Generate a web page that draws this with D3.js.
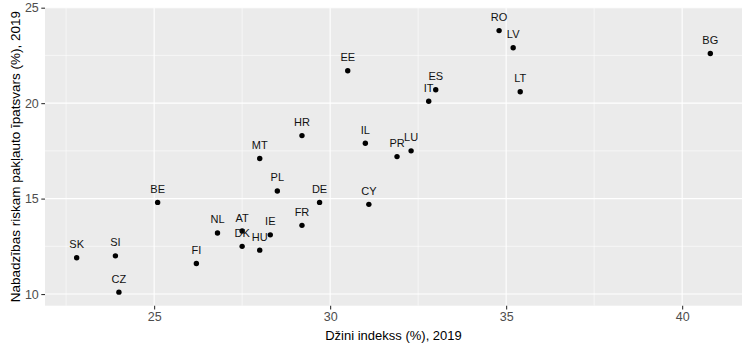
<!DOCTYPE html>
<html>
<head>
<meta charset="utf-8">
<script src="https://cdn.jsdelivr.net/npm/d3@7"></script>
<style>
  html, body { margin: 0; padding: 0; background: #fff; }
  svg { display: block; font-family: "Liberation Sans", Arial, sans-serif; }
</style>
</head>
<body>
<svg id="chart" width="750" height="350"></svg>
<script>
// Country codes, Gini index (%) and at-risk-of-poverty rate (%), 2019
const countries = ["SK","SI","CZ","BE","FI","NL","AT","DK","HU","PL","DE","FR","IE","CY","EE","ES","IT","HR","IL","PR","LU","MT","RO","LV","LT","BG"];
const gini      = [22.8, 23.9, 24.0, 25.1, 26.2, 26.8, 27.5, 27.5, 28.0, 28.5, 29.7, 29.2, 28.3, 31.1, 30.5, 33.0, 32.8, 29.2, 31.0, 31.9, 32.3, 28.0, 34.8, 35.2, 35.4, 40.8];
const poverty   = [11.9, 12.0, 10.1, 14.8, 11.6, 13.2, 13.3, 12.5, 12.3, 15.4, 14.8, 13.6, 13.1, 14.7, 21.7, 20.7, 20.1, 18.3, 17.9, 17.2, 17.5, 17.1, 23.8, 22.9, 20.6, 22.6];

const xTicks = [25, 30, 35, 40];
const yTicks = [10, 15, 20, 25];
const xMinor = [22.5, 27.5, 32.5, 37.5];
const yMinor = [12.5, 17.5, 22.5];

const xTitle = "Džini indekss (%), 2019";
const yTitle = "Nabadzības riskam pakļauto īpatsvars (%), 2019";

const labelNudge = 0.5;

const data = countries.map((c, i) => ({ code: c, x: gini[i], y: poverty[i] }));

const svg = d3.select("#chart");
const W = 750, H = 350;
const margin = { top: 7.5, right: 8, bottom: 44.3, left: 45 };
const pw = W - margin.left - margin.right;
const ph = H - margin.top - margin.bottom;

// Domains padded by 5% like a default continuous scale; labels count toward y range
function expand(lo, hi) { const r = hi - lo; return [lo - 0.05 * r, hi + 0.05 * r]; }
const xExt = d3.extent(gini);
const yExt = [d3.min(poverty), d3.max(poverty) + labelNudge];

const x = d3.scaleLinear().domain(expand(xExt[0], xExt[1])).range([0, pw]);
const y = d3.scaleLinear().domain(expand(yExt[0], yExt[1])).range([ph, 0]);

const g = svg.append("g").attr("transform", `translate(${margin.left},${margin.top})`);

// Panel background
g.append("rect").attr("width", pw).attr("height", ph).attr("fill", "#EBEBEB");

// Minor grid
g.selectAll("line.xminor").data(xMinor).join("line")
  .attr("x1", d => x(d)).attr("x2", d => x(d)).attr("y1", 0).attr("y2", ph)
  .attr("stroke", "#fff").attr("stroke-width", 0.55);
g.selectAll("line.yminor").data(yMinor).join("line")
  .attr("y1", d => y(d)).attr("y2", d => y(d)).attr("x1", 0).attr("x2", pw)
  .attr("stroke", "#fff").attr("stroke-width", 0.55);

// Major grid
g.selectAll("line.xmajor").data(xTicks).join("line")
  .attr("x1", d => x(d)).attr("x2", d => x(d)).attr("y1", 0).attr("y2", ph)
  .attr("stroke", "#fff").attr("stroke-width", 1.1);
g.selectAll("line.ymajor").data(yTicks).join("line")
  .attr("y1", d => y(d)).attr("y2", d => y(d)).attr("x1", 0).attr("x2", pw)
  .attr("stroke", "#fff").attr("stroke-width", 1.1);

// Axes
const xAxis = g.append("g").attr("transform", `translate(0,${ph})`)
  .call(d3.axisBottom(x).tickValues(xTicks).tickSize(3.7).tickPadding(2.5).tickFormat(d3.format("d")));
const yAxis = g.append("g")
  .call(d3.axisLeft(y).tickValues(yTicks).tickSize(3.7).tickPadding(2.5).tickFormat(d3.format("d")));

[xAxis, yAxis].forEach(a => {
  a.select(".domain").remove();
  a.selectAll(".tick line").attr("stroke", "#333333").attr("stroke-width", 1.1);
  a.selectAll(".tick text").attr("fill", "#4D4D4D")
    .style("font-size", "12.5px").style("font-family", "'Liberation Sans', Arial, sans-serif");
});

// Points
g.selectAll("circle.pt").data(data).join("circle")
  .attr("class", "pt")
  .attr("cx", d => x(d.x)).attr("cy", d => y(d.y)).attr("r", 2.7)
  .attr("fill", "#000");

// Country labels, nudged above each point
g.selectAll("text.lbl").data(data).join("text")
  .attr("class", "lbl")
  .attr("x", d => x(d.x)).attr("y", d => y(d.y + labelNudge))
  .attr("text-anchor", "middle")
  .attr("fill", "#111")
  .style("font-size", "11px")
  .text(d => d.code);

// Axis titles
svg.append("text")
  .attr("x", margin.left + pw / 2).attr("y", 339.5)
  .attr("text-anchor", "middle").attr("fill", "#000")
  .style("font-size", "13px")
  .text(xTitle);

svg.append("text")
  .attr("transform", `translate(19.5,${margin.top + ph / 2}) rotate(-90)`)
  .attr("text-anchor", "middle").attr("fill", "#000")
  .style("font-size", "13.5px")
  .text(yTitle);
</script>
</body>
</html>
